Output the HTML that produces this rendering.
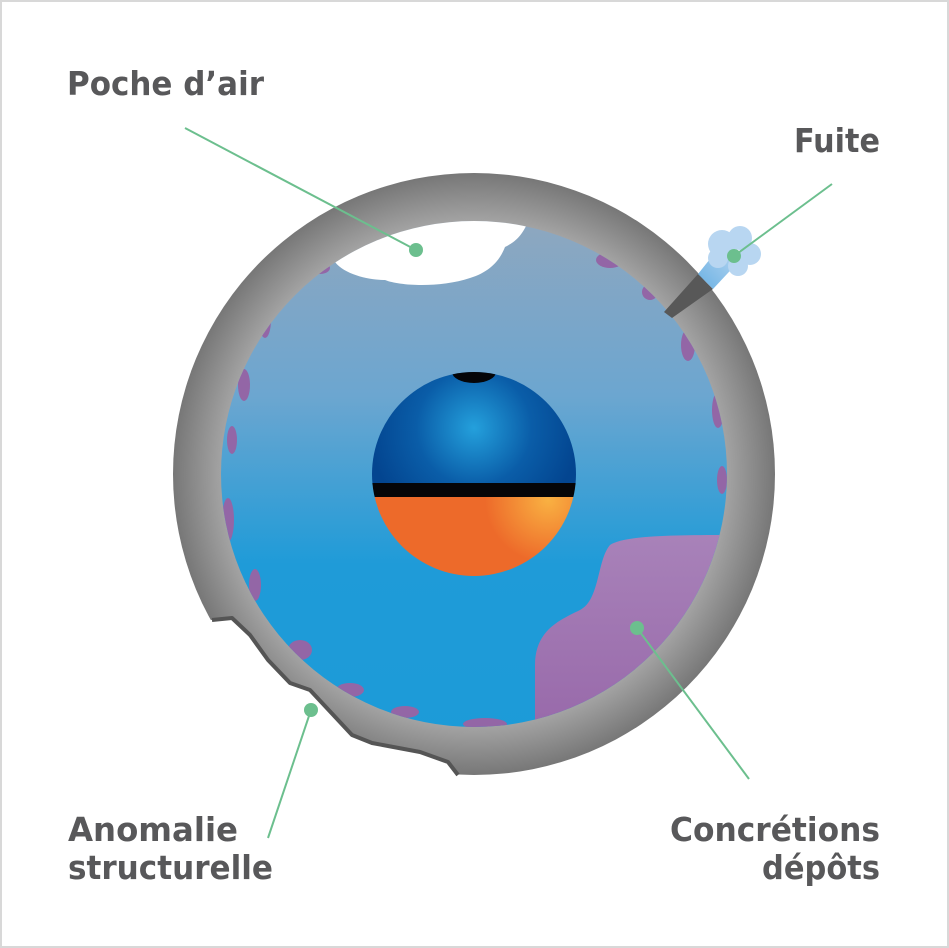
<!DOCTYPE html>
<html><head><meta charset="utf-8"><style>
html,body{margin:0;padding:0;background:#fff}
svg{display:block}
text{font-family:"DejaVu Sans","Liberation Sans",sans-serif;font-weight:bold;fill:#58585a;font-size:33px}
</style></head><body>
<svg width="949" height="948" viewBox="0 0 949 948" xmlns="http://www.w3.org/2000/svg">
<defs>
<linearGradient id="water" x1="0" y1="0" x2="0" y2="1">
<stop offset="0" stop-color="#92a7bd"/><stop offset="0.35" stop-color="#6ca6d0"/><stop offset="0.65" stop-color="#1f9bd8"/><stop offset="1" stop-color="#1c9bd8"/>
</linearGradient>
<radialGradient id="ring" cx="474" cy="474" r="301" gradientUnits="userSpaceOnUse">
<stop offset="0.84" stop-color="#a3a3a3"/><stop offset="1" stop-color="#777"/>
</radialGradient>
<radialGradient id="blue" cx="474" cy="428" r="105" gradientUnits="userSpaceOnUse">
<stop offset="0" stop-color="#24a0dc"/><stop offset="0.55" stop-color="#0a5da8"/><stop offset="1" stop-color="#034590"/>
</radialGradient>
<radialGradient id="orange" cx="548" cy="500" r="90" gradientUnits="userSpaceOnUse">
<stop offset="0" stop-color="#f9b142"/><stop offset="0.7" stop-color="#ed6a2a"/><stop offset="1" stop-color="#ed6a2a"/>
</radialGradient>
<linearGradient id="purp" x1="0" y1="0" x2="0" y2="1">
<stop offset="0" stop-color="#a882b9"/><stop offset="1" stop-color="#9463a6"/>
</linearGradient>
<linearGradient id="leak" x1="0" y1="1" x2="1" y2="0">
<stop offset="0" stop-color="#5aa8e0"/><stop offset="1" stop-color="#b8d6f1"/>
</linearGradient>
<clipPath id="inner"><circle cx="474" cy="474" r="253"/></clipPath>
<clipPath id="ball"><circle cx="474" cy="474" r="102"/></clipPath>
</defs>
<rect x="1" y="1" width="947" height="946" fill="#fff" stroke="#d8d8d8" stroke-width="2"/>
<circle cx="474" cy="474" r="301" fill="url(#ring)"/>
<g clip-path="url(#inner)">
<rect x="200" y="200" width="560" height="560" fill="url(#water)"/>
<path d="M335 262 C345 275 370 280 385 280 C400 286 440 288 470 278 C490 272 500 260 505 247 C515 242 525 235 532 210 L320 210 Z" fill="#fff"/>
<path d="M535 730 L535 665 C535 630 560 620 580 610 C600 600 597 560 610 545 C625 535 680 535 730 535 L780 535 L780 780 Z" fill="url(#purp)"/>
<g fill="#9366a6">
<ellipse cx="228" cy="520" rx="6" ry="22"/><ellipse cx="232" cy="440" rx="5" ry="14"/>
<ellipse cx="244" cy="385" rx="6" ry="16"/><ellipse cx="265" cy="320" rx="6" ry="18"/>
<ellipse cx="255" cy="585" rx="6" ry="16"/><ellipse cx="300" cy="650" rx="12" ry="10"/>
<ellipse cx="350" cy="690" rx="14" ry="7"/><ellipse cx="405" cy="712" rx="14" ry="6"/>
<ellipse cx="485" cy="724" rx="22" ry="6"/><ellipse cx="610" cy="260" rx="14" ry="8"/>
<ellipse cx="650" cy="292" rx="8" ry="8"/><ellipse cx="688" cy="345" rx="7" ry="16"/>
<ellipse cx="718" cy="410" rx="6" ry="18"/><ellipse cx="722" cy="480" rx="5" ry="14"/>
<ellipse cx="320" cy="268" rx="10" ry="6"/>
</g>
</g>
<path d="M212 620 L232 618 L250 635 L268 660 L290 683 L310 690 L352 735 L372 743 L420 752 L448 762 L458 775 L458 790 L150 790 L150 620 Z" fill="#fff"/>
<path d="M212 620 L232 618 L250 635 L268 660 L290 683 L310 690 L352 735 L372 743 L420 752 L448 762 L458 775" fill="none" stroke="#555" stroke-width="4" stroke-linejoin="round"/>
<path d="M664 312 L698 274 L713 289 L672 318 Z" fill="#585858"/>
<path d="M698 274 L713 289 L742 258 L722 244 Z" fill="url(#leak)" opacity="0.9"/>
<g fill="#b8d6f1">
<circle cx="722" cy="244" r="14"/><circle cx="740" cy="238" r="12"/><circle cx="750" cy="254" r="11"/><circle cx="738" cy="266" r="10"/><circle cx="718" cy="258" r="10"/>
</g>
<g clip-path="url(#ball)">
<rect x="370" y="370" width="210" height="115" fill="url(#blue)"/>
<rect x="370" y="483" width="210" height="14" fill="#050508"/>
<rect x="370" y="497" width="210" height="85" fill="url(#orange)"/>
<ellipse cx="474" cy="372" rx="22" ry="11" fill="#050508"/>
</g>
<g stroke="#6cbf8e" stroke-width="2" fill="none">
<line x1="185" y1="128" x2="416" y2="250"/>
<line x1="832" y1="184" x2="734" y2="256"/>
<line x1="268" y1="838" x2="311" y2="710"/>
<line x1="749" y1="779" x2="637" y2="628"/>
</g>
<g fill="#6cbf8e">
<circle cx="416" cy="250" r="7"/><circle cx="734" cy="256" r="7"/><circle cx="311" cy="710" r="7"/><circle cx="637" cy="628" r="7"/>
</g>
<text x="67" y="95" textLength="197" lengthAdjust="spacingAndGlyphs">Poche d’air</text>
<text x="880" y="152" text-anchor="end" textLength="86" lengthAdjust="spacingAndGlyphs">Fuite</text>
<text x="68" y="841" textLength="170" lengthAdjust="spacingAndGlyphs">Anomalie</text>
<text x="68" y="879" textLength="205" lengthAdjust="spacingAndGlyphs">structurelle</text>
<text x="880" y="841" text-anchor="end" textLength="210" lengthAdjust="spacingAndGlyphs">Concrétions</text>
<text x="880" y="879" text-anchor="end" textLength="118" lengthAdjust="spacingAndGlyphs">dépôts</text>
</svg>
</body></html>
